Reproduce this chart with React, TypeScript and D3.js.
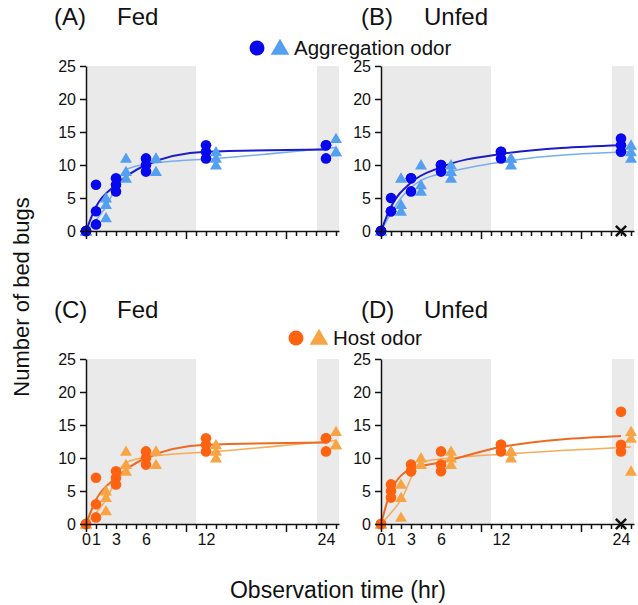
import { useEffect, useRef } from 'react';
import * as d3 from 'd3';

// Observation times (hr); each row below holds three replicate counts per time
const hours = [0, 1, 3, 6, 12, 24];

const aggFedCircles = [[0, 0, 0], [7, 3, 1], [8, 7, 6], [11, 10, 9], [13, 12, 11], [13, 13, 11]];
const aggFedTriangles = [[0, 0, 0], [5, 4, 2], [11, 9, 8], [11, 11, 9], [12, 11, 10], [14, 12, 12]];

const aggUnfedCircles = [[0, 0, 0], [5, 3, 3], [8, 8, 6], [10, 10, 9], [12, 12, 11], [14, 13, 12]];
const aggUnfedTriangles = [[0, 0, 0], [8, 4, 3], [10, 7, 6], [10, 9, 8], [11, 11, 10], [13, 12, 11]];

const hostFedCircles = [[0, 0, 0], [7, 3, 1], [8, 7, 6], [11, 10, 9], [13, 12, 11], [13, 13, 11]];
const hostFedTriangles = [[0, 0, 0], [5, 4, 2], [11, 9, 8], [11, 11, 9], [12, 11, 10], [14, 12, 12]];

const hostUnfedCircles = [[0, 0, 0], [6, 5, 4], [9, 8, 8], [11, 9, 8], [12, 11, 12], [17, 12, 11]];
const hostUnfedTriangles = [[0, 0, 0], [6, 4, 1], [10, 9, 9], [11, 10, 9], [11, 10, 11], [14, 13, 8]];

const yTicks = [0, 5, 10, 15, 20, 25];
// shaded (scotophase) intervals, in hours
const darkBands = [[0, 11], [23.1, 25.3]];

const odors = [
  { name: 'Aggregation odor', circle: '#0808ec', circleLine: '#1c1cc6', triangle: '#559ff0', triangleLine: '#76aef0' },
  { name: 'Host odor', circle: '#ff6210', circleLine: '#ee6a22', triangle: '#f8a444', triangleLine: '#f5ac58' },
];

const panels = [
  { tag: '(A)', state: 'Fed', circles: aggFedCircles, triangles: aggFedTriangles, odor: 0, col: 0, row: 0, cross: false },
  { tag: '(B)', state: 'Unfed', circles: aggUnfedCircles, triangles: aggUnfedTriangles, odor: 0, col: 1, row: 0, cross: true },
  { tag: '(C)', state: 'Fed', circles: hostFedCircles, triangles: hostFedTriangles, odor: 1, col: 0, row: 1, cross: false },
  { tag: '(D)', state: 'Unfed', circles: hostUnfedCircles, triangles: hostUnfedTriangles, odor: 1, col: 1, row: 1, cross: true },
];

const FONT = '"Liberation Sans", Arial, sans-serif';

export default function App() {
  const svgRef = useRef<SVGSVGElement>(null);

  useEffect(() => {
    const svg = d3.select(svgRef.current);
    svg.selectAll('*').remove();

    const rowTop = [66, 359];
    const rowBottom = [231, 524];
    const colLeft = [86, 381];
    const rowShift = rowTop[1] - rowTop[0];

    panels.forEach(p => {
      const pal = odors[p.odor];
      const x = d3.scaleLinear().domain([0, 25.3]).range([colLeft[p.col], colLeft[p.col] + 253]);
      const y = d3.scaleLinear().domain([0, 25]).range([rowBottom[p.row], rowTop[p.row]]);
      const g = svg.append('g');

      // shaded bands
      g.selectAll('rect.band')
        .data(darkBands)
        .join('rect')
        .attr('x', d => x(d[0]))
        .attr('width', d => x(d[1]) - x(d[0]))
        .attr('y', y(25))
        .attr('height', y(0) - y(25))
        .attr('fill', '#eaeaea');

      // triangles sit one hour right of their time point so they don't hide the circles
      const triX = (t: number) => (t === 0 ? 0 : t + 1);

      const circleMeans = hours.map((t, i) => [t, d3.mean(p.circles[i]) as number]);
      const triMeans = hours.map((t, i) => [triX(t), d3.mean(p.triangles[i]) as number]);

      const line = d3.line<number[]>()
        .x(d => x(d[0]))
        .y(d => y(d[1]))
        .curve(d3.curveMonotoneX);

      g.append('path')
        .datum(triMeans)
        .attr('fill', 'none')
        .attr('stroke', pal.triangleLine)
        .attr('stroke-width', 1.5)
        .attr('d', line);

      g.append('path')
        .datum(circleMeans)
        .attr('fill', 'none')
        .attr('stroke', pal.circleLine)
        .attr('stroke-width', 2)
        .attr('d', line);

      const triPoints = hours.flatMap((t, i) => p.triangles[i].map(v => [triX(t), v]));
      const circlePoints = hours.flatMap((t, i) => p.circles[i].map(v => [t, v]));

      g.selectAll('path.tri')
        .data(triPoints)
        .join('path')
        .attr('class', 'tri')
        .attr('d', d3.symbol(d3.symbolTriangle, 62))
        .attr('transform', d => `translate(${x(d[0])},${y(d[1]) + 1})`)
        .attr('fill', pal.triangle);

      g.selectAll('circle')
        .data(circlePoints)
        .join('circle')
        .attr('cx', d => x(d[0]))
        .attr('cy', d => y(d[1]))
        .attr('r', 5.3)
        .attr('fill', pal.circle);

      // x axis: hourly ticks, longer every 10 h, labels only on the bottom row
      const xAxis = g.append('g')
        .attr('transform', `translate(0,${y(0)})`)
        .call(
          d3.axisBottom(x)
            .tickValues(d3.range(0, 26))
            .tickSizeInner(5)
            .tickSizeOuter(0)
            .tickPadding(5)
            .tickFormat(d => (p.row === 1 && hours.includes(+d) ? String(d) : ''))
        );
      xAxis.selectAll<SVGLineElement, number>('.tick line')
        .filter(d => d % 10 === 0)
        .attr('y2', 8);

      const yAxis = g.append('g')
        .attr('transform', `translate(${x(0)},0)`)
        .call(d3.axisLeft(y).tickValues(yTicks).tickSizeInner(6).tickSizeOuter(0).tickPadding(4));

      [xAxis, yAxis].forEach(a => {
        a.attr('font-family', FONT).attr('font-size', 16);
        a.selectAll('path, line').attr('stroke', '#111').attr('stroke-width', 1.5);
        a.selectAll('text').attr('fill', '#111');
      });

      if (p.cross) {
        g.append('path')
          .attr('d', d3.symbol(d3.symbolTimes, 70))
          .attr('transform', `translate(${x(24)},${y(0)})`)
          .attr('fill', 'none')
          .attr('stroke', '#111')
          .attr('stroke-width', 2.5);
      }

      // panel heading
      const headY = 25 + p.row * rowShift;
      const tagX = p.col === 0 ? 54 : 361;
      g.append('text')
        .attr('x', tagX)
        .attr('y', headY)
        .attr('font-family', FONT)
        .attr('font-size', 24)
        .attr('fill', '#111')
        .text(p.tag);
      g.append('text')
        .attr('x', tagX + 63)
        .attr('y', headY)
        .attr('font-family', FONT)
        .attr('font-size', 24)
        .attr('fill', '#111')
        .text(p.state);
    });

    // legends, one per row
    const legendX = [257, 296];
    odors.forEach((o, i) => {
      const cy = 48 + i * rowShift - i * 3;
      const lx = legendX[i];
      const lg = svg.append('g');
      lg.append('circle').attr('cx', lx).attr('cy', cy).attr('r', 7.5).attr('fill', o.circle);
      lg.append('path')
        .attr('d', d3.symbol(d3.symbolTriangle, 150))
        .attr('transform', `translate(${lx + 23},${cy + 1.5})`)
        .attr('fill', o.triangle);
      lg.append('text')
        .attr('x', lx + 37)
        .attr('y', cy + 7)
        .attr('font-family', FONT)
        .attr('font-size', 20.5)
        .attr('fill', '#111')
        .text(o.name);
    });

    svg.append('text')
      .attr('transform', 'translate(29,297) rotate(-90)')
      .attr('text-anchor', 'middle')
      .attr('font-family', FONT)
      .attr('font-size', 22)
      .attr('fill', '#111')
      .text('Number of bed bugs');

    svg.append('text')
      .attr('x', 338)
      .attr('y', 598)
      .attr('text-anchor', 'middle')
      .attr('font-family', FONT)
      .attr('font-size', 23)
      .attr('fill', '#111')
      .text('Observation time (hr)');
  }, []);

  return (
    <svg
      ref={svgRef}
      width={638}
      height={605}
      style={{ position: 'absolute', left: 0, top: 0, background: '#fff', display: 'block' }}
    />
  );
}
